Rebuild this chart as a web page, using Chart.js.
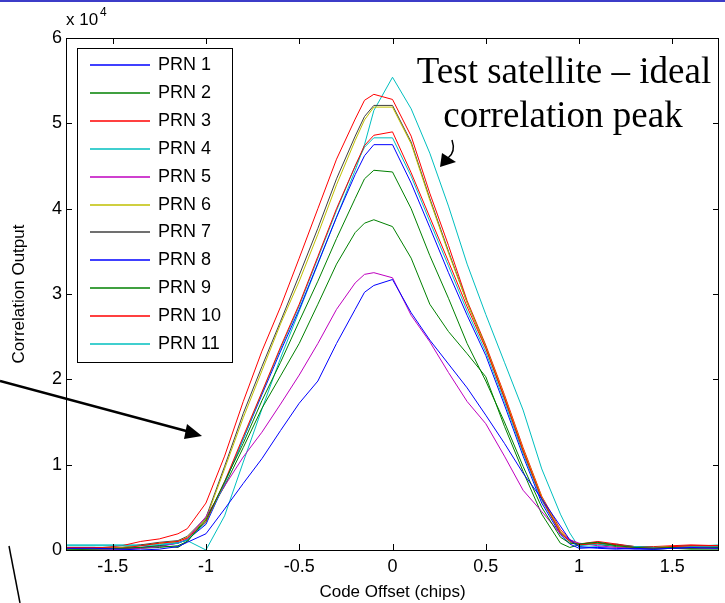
<!DOCTYPE html>
<html>
<head>
<meta charset="utf-8">
<script src="https://cdn.jsdelivr.net/npm/chart.js@4/dist/chart.umd.min.js"></script>
<style>
  html, body { margin: 0; padding: 0; background: #fff; }
  #wrap { width: 725px; height: 603px; }
</style>
</head>
<body>
<div id="wrap"><canvas id="myChart" width="725" height="603"></canvas></div>
<script>
// code offsets (chips) where the correlator output was sampled
var xs = [-1.75, -1.6, -1.45, -1.35, -1.25, -1.15, -1.1,
  -1.0, -0.9, -0.8, -0.7, -0.6, -0.5, -0.4, -0.3, -0.2,
  -0.15, -0.1, 0,
  0.1, 0.2, 0.3, 0.4, 0.5, 0.6, 0.7, 0.8, 0.9,
  0.95, 1.0,
  1.1, 1.2, 1.3, 1.4, 1.5, 1.6,
  1.75];

// correlation output, in units of 10^4
var prn1 = [0.02, 0.02, 0.01, 0.00, 0.01, 0.04, 0.09,
  0.19, 0.48, 0.78, 1.07, 1.40, 1.72, 1.98, 2.42, 2.82,
  3.02, 3.10, 3.17,
  2.78, 2.46, 2.18, 1.90, 1.58, 1.25, 0.90, 0.60, 0.28,
  0.12, 0.04,
  0.02, 0.01, 0.02, 0.01, 0.02, 0.03,
  0.02];
var prn2 = [0.01, 0.01, 0.02, 0.03, 0.05, 0.03, 0.10,
  0.35, 0.80, 1.25, 1.75, 2.20, 2.68, 3.15, 3.65, 4.12,
  4.35, 4.45, 4.43,
  4.00, 3.45, 2.95, 2.42, 1.98, 1.50, 0.98, 0.50, 0.15,
  0.08, 0.07,
  0.09, 0.05, 0.03, 0.02, 0.03, 0.02,
  0.03];
var prn3 = [0.03, 0.03, 0.02, 0.05, 0.08, 0.10, 0.14,
  0.33, 0.80, 1.33, 1.85, 2.38, 2.88, 3.44, 4.00, 4.50,
  4.74, 4.86, 4.90,
  4.42, 3.90, 3.38, 2.85, 2.36, 1.78, 1.16, 0.60, 0.20,
  0.10, 0.06,
  0.08, 0.06, 0.03, 0.02, 0.04, 0.05,
  0.05];
var prn4 = [0.05, 0.05, 0.05, 0.05, 0.06, 0.08, 0.12,
  0.32, 0.78, 1.30, 1.84, 2.36, 2.86, 3.42, 3.98, 4.50,
  4.72, 4.83, 4.83,
  4.38, 3.85, 3.33, 2.80, 2.32, 1.74, 1.13, 0.58, 0.20,
  0.09, 0.05,
  0.07, 0.05, 0.04, 0.03, 0.03, 0.04,
  0.04];
var prn5 = [0.02, 0.01, 0.01, 0.02, 0.04, 0.08, 0.13,
  0.39, 0.75, 1.09, 1.38, 1.71, 2.05, 2.42, 2.82, 3.13,
  3.23, 3.25, 3.19,
  2.75, 2.44, 2.08, 1.74, 1.48, 1.10, 0.70, 0.45, 0.19,
  0.12, 0.08,
  0.05, 0.03, 0.02, 0.02, 0.03, 0.02,
  0.02];
var prn6 = [0.02, 0.02, 0.03, 0.05, 0.08, 0.10, 0.15,
  0.36, 0.95, 1.55, 2.10, 2.65, 3.15, 3.70, 4.28, 4.80,
  5.04, 5.19, 5.19,
  4.76, 4.10, 3.48, 2.90, 2.38, 1.80, 1.18, 0.62, 0.22,
  0.11, 0.07,
  0.08, 0.05, 0.03, 0.03, 0.04, 0.04,
  0.03];
var prn7 = [0.02, 0.02, 0.03, 0.06, 0.09, 0.11, 0.16,
  0.38, 0.98, 1.60, 2.15, 2.68, 3.22, 3.77, 4.35, 4.85,
  5.08, 5.21, 5.21,
  4.78, 4.12, 3.50, 2.90, 2.38, 1.78, 1.16, 0.60, 0.21,
  0.11, 0.07,
  0.09, 0.06, 0.04, 0.03, 0.04, 0.05,
  0.04];
var prn8 = [0.03, 0.03, 0.02, 0.03, 0.05, 0.08, 0.12,
  0.30, 0.78, 1.30, 1.82, 2.33, 2.82, 3.36, 3.90, 4.40,
  4.62, 4.75, 4.75,
  4.30, 3.78, 3.25, 2.75, 2.28, 1.70, 1.10, 0.55, 0.18,
  0.07, 0.02,
  0.03, 0.02, 0.01, 0.01, 0.02, 0.02,
  0.03];
var prn9 = [0.00, 0.01, 0.01, 0.02, 0.03, 0.05, 0.10,
  0.37, 0.75, 1.20, 1.66, 2.04, 2.42, 2.88, 3.35, 3.72,
  3.83, 3.87, 3.79,
  3.42, 2.88, 2.56, 2.30, 2.03, 1.45, 0.92, 0.42, 0.08,
  0.03, 0.06,
  0.07, 0.04, 0.02, 0.01, 0.02, 0.01,
  0.01];
var prn10 = [0.03, 0.02, 0.05, 0.10, 0.13, 0.19, 0.25,
  0.55, 1.10, 1.74, 2.33, 2.85, 3.42, 4.00, 4.58, 5.05,
  5.27, 5.34, 5.28,
  4.85, 4.18, 3.57, 2.92, 2.40, 1.82, 1.20, 0.63, 0.24,
  0.12, 0.07,
  0.10, 0.07, 0.04, 0.04, 0.05, 0.06,
  0.05];
// test satellite (ideal peak)
var prn11 = [0.06, 0.06, 0.06, 0.06, 0.07, 0.09, 0.11,
  0.00, 0.40, 1.03, 1.65, 2.25, 2.80, 3.35, 3.90, 4.45,
  4.75, 5.15, 5.54,
  5.17, 4.65, 4.03, 3.35, 2.76, 2.20, 1.64, 0.95, 0.42,
  0.20, 0.03,
  0.04, 0.07, 0.03, 0.02, 0.03, 0.04,
  0.06];

var labels = ['PRN 1', 'PRN 2', 'PRN 3', 'PRN 4', 'PRN 5', 'PRN 6',
  'PRN 7', 'PRN 8', 'PRN 9', 'PRN 10', 'PRN 11'];
var series = [prn1, prn2, prn3, prn4, prn5, prn6, prn7, prn8, prn9, prn10, prn11];
var colors = ['#0000ff', '#008000', '#ff0000', '#00bfbf', '#bf00bf', '#bfbf00',
  '#404040', '#0000ff', '#008000', '#ff0000', '#00bfbf'];

var xTicks = [-1.5, -1, -0.5, 0, 0.5, 1, 1.5];
var yTicks = [0, 1, 2, 3, 4, 5, 6];

var FONT = 'Liberation Sans, Arial, sans-serif';

var datasets = series.map(function(s, i){
  return {
    label: labels[i],
    data: s.map(function(v, j){ return {x: xs[j], y: v}; }),
    borderColor: colors[i],
    backgroundColor: colors[i],
    borderWidth: 1,
    pointRadius: 0,
    tension: 0,
    fill: false
  };
});

// matlab style box, inward ticks, legend and the slide annotations
var extras = {
  id: 'extras',
  beforeDraw: function(chart){
    var c = chart.ctx;
    c.save();
    c.fillStyle = '#fff';
    c.fillRect(0, 0, chart.width, chart.height);
    c.restore();
  },
  afterDatasetsDraw: function(chart){
    var c = chart.ctx, a = chart.chartArea;
    var sx = chart.scales.x, sy = chart.scales.y;
    c.save();

    // box
    c.strokeStyle = '#000';
    c.lineWidth = 1;
    c.strokeRect(a.left + 0.5, a.top + 0.5, a.right - a.left - 1, a.bottom - a.top);

    // ticks
    c.beginPath();
    xTicks.forEach(function(v){
      var px = Math.round(sx.getPixelForValue(v)) + 0.5;
      c.moveTo(px, a.bottom); c.lineTo(px, a.bottom - 6);
      c.moveTo(px, a.top); c.lineTo(px, a.top + 6);
    });
    yTicks.forEach(function(v){
      var py = Math.round(sy.getPixelForValue(v)) + 0.5;
      c.moveTo(a.left, py); c.lineTo(a.left + 6, py);
      c.moveTo(a.right, py); c.lineTo(a.right - 6, py);
    });
    c.stroke();

    // legend
    var lx = 77, ly = 48, lw = 155, lh = 314;
    c.fillStyle = '#fff';
    c.fillRect(lx, ly, lw, lh);
    c.strokeStyle = '#000';
    c.strokeRect(lx + 0.5, ly + 0.5, lw, lh);
    c.font = '18px ' + FONT;
    c.textBaseline = 'middle';
    c.textAlign = 'left';
    for (var i = 0; i < labels.length; i++) {
      var yy = Math.round(65 + i * 27.9);
      c.lineWidth = 1.5;
      c.strokeStyle = colors[i];
      c.beginPath(); c.moveTo(90, yy); c.lineTo(150, yy); c.stroke();
      c.fillStyle = '#000';
      c.fillText(labels[i], 158, yy);
    }

    // x 10^4
    c.fillStyle = '#000';
    c.textBaseline = 'alphabetic';
    c.font = '17px ' + FONT;
    c.fillText('x 10', 66, 25);
    c.font = '12px ' + FONT;
    c.fillText('4', 100, 16);

    // annotation text
    c.font = '37px Liberation Serif, Times New Roman, serif';
    c.textAlign = 'center';
    c.fillText('Test satellite \u2013 ideal', 564, 83);
    c.fillText('correlation peak', 563, 127);

    // small curved arrow
    c.strokeStyle = '#000';
    c.lineWidth = 1.5;
    c.beginPath();
    c.moveTo(452, 140);
    c.quadraticCurveTo(456, 152, 448, 158);
    c.stroke();
    c.beginPath();
    c.moveTo(440, 167); c.lineTo(442, 153); c.lineTo(456, 162);
    c.closePath(); c.fill();

    // big arrow from the left
    c.lineWidth = 2.5;
    c.beginPath();
    c.moveTo(0, 381); c.lineTo(190, 432);
    c.stroke();
    c.beginPath();
    c.moveTo(202, 436); c.lineTo(187, 424); c.lineTo(184, 439);
    c.closePath(); c.fill();

    // stray line bottom left
    c.lineWidth = 1.5;
    c.beginPath();
    c.moveTo(9, 546); c.lineTo(20, 603);
    c.stroke();

    // slide border at top
    c.fillStyle = '#3c3cc8';
    c.fillRect(0, 0, chart.width, 2);

    c.restore();
  }
};

var ctx = document.getElementById('myChart').getContext('2d');
var chart = new Chart(ctx, {
  type: 'line',
  data: { datasets: datasets },
  options: {
    responsive: false,
    animation: false,
    layout: { padding: { top: 38, right: 6, left: 0, bottom: 0 } },
    plugins: { legend: { display: false }, tooltip: { enabled: false } },
    scales: {
      x: {
        type: 'linear',
        min: -1.75,
        max: 1.75,
        grid: { display: false },
        border: { display: false },
        afterBuildTicks: function(scale){
          scale.ticks = xTicks.map(function(v){ return { value: v }; });
        },
        afterFit: function(scale){ scale.height = 53; },
        ticks: {
          color: '#000',
          padding: -2,
          maxRotation: 0,
          font: { family: FONT, size: 18 },
          callback: function(v){ return String(v); }
        },
        title: {
          display: true,
          text: 'Code Offset (chips)',
          color: '#000',
          padding: { top: 0, bottom: 0 },
          font: { family: FONT, size: 17 }
        }
      },
      y: {
        type: 'linear',
        min: 0,
        max: 6,
        grid: { display: false },
        border: { display: false },
        afterBuildTicks: function(scale){
          scale.ticks = yTicks.map(function(v){ return { value: v }; });
        },
        afterFit: function(scale){ scale.width = 66; },
        ticks: {
          color: '#000',
          padding: -4,
          font: { family: FONT, size: 18 },
          callback: function(v){ return String(v); }
        },
        title: {
          display: true,
          text: 'Correlation Output',
          color: '#000',
          padding: { top: 9, bottom: 9 },
          font: { family: FONT, size: 17 }
        }
      }
    }
  },
  plugins: [extras]
});
</script>
</body>
</html>
